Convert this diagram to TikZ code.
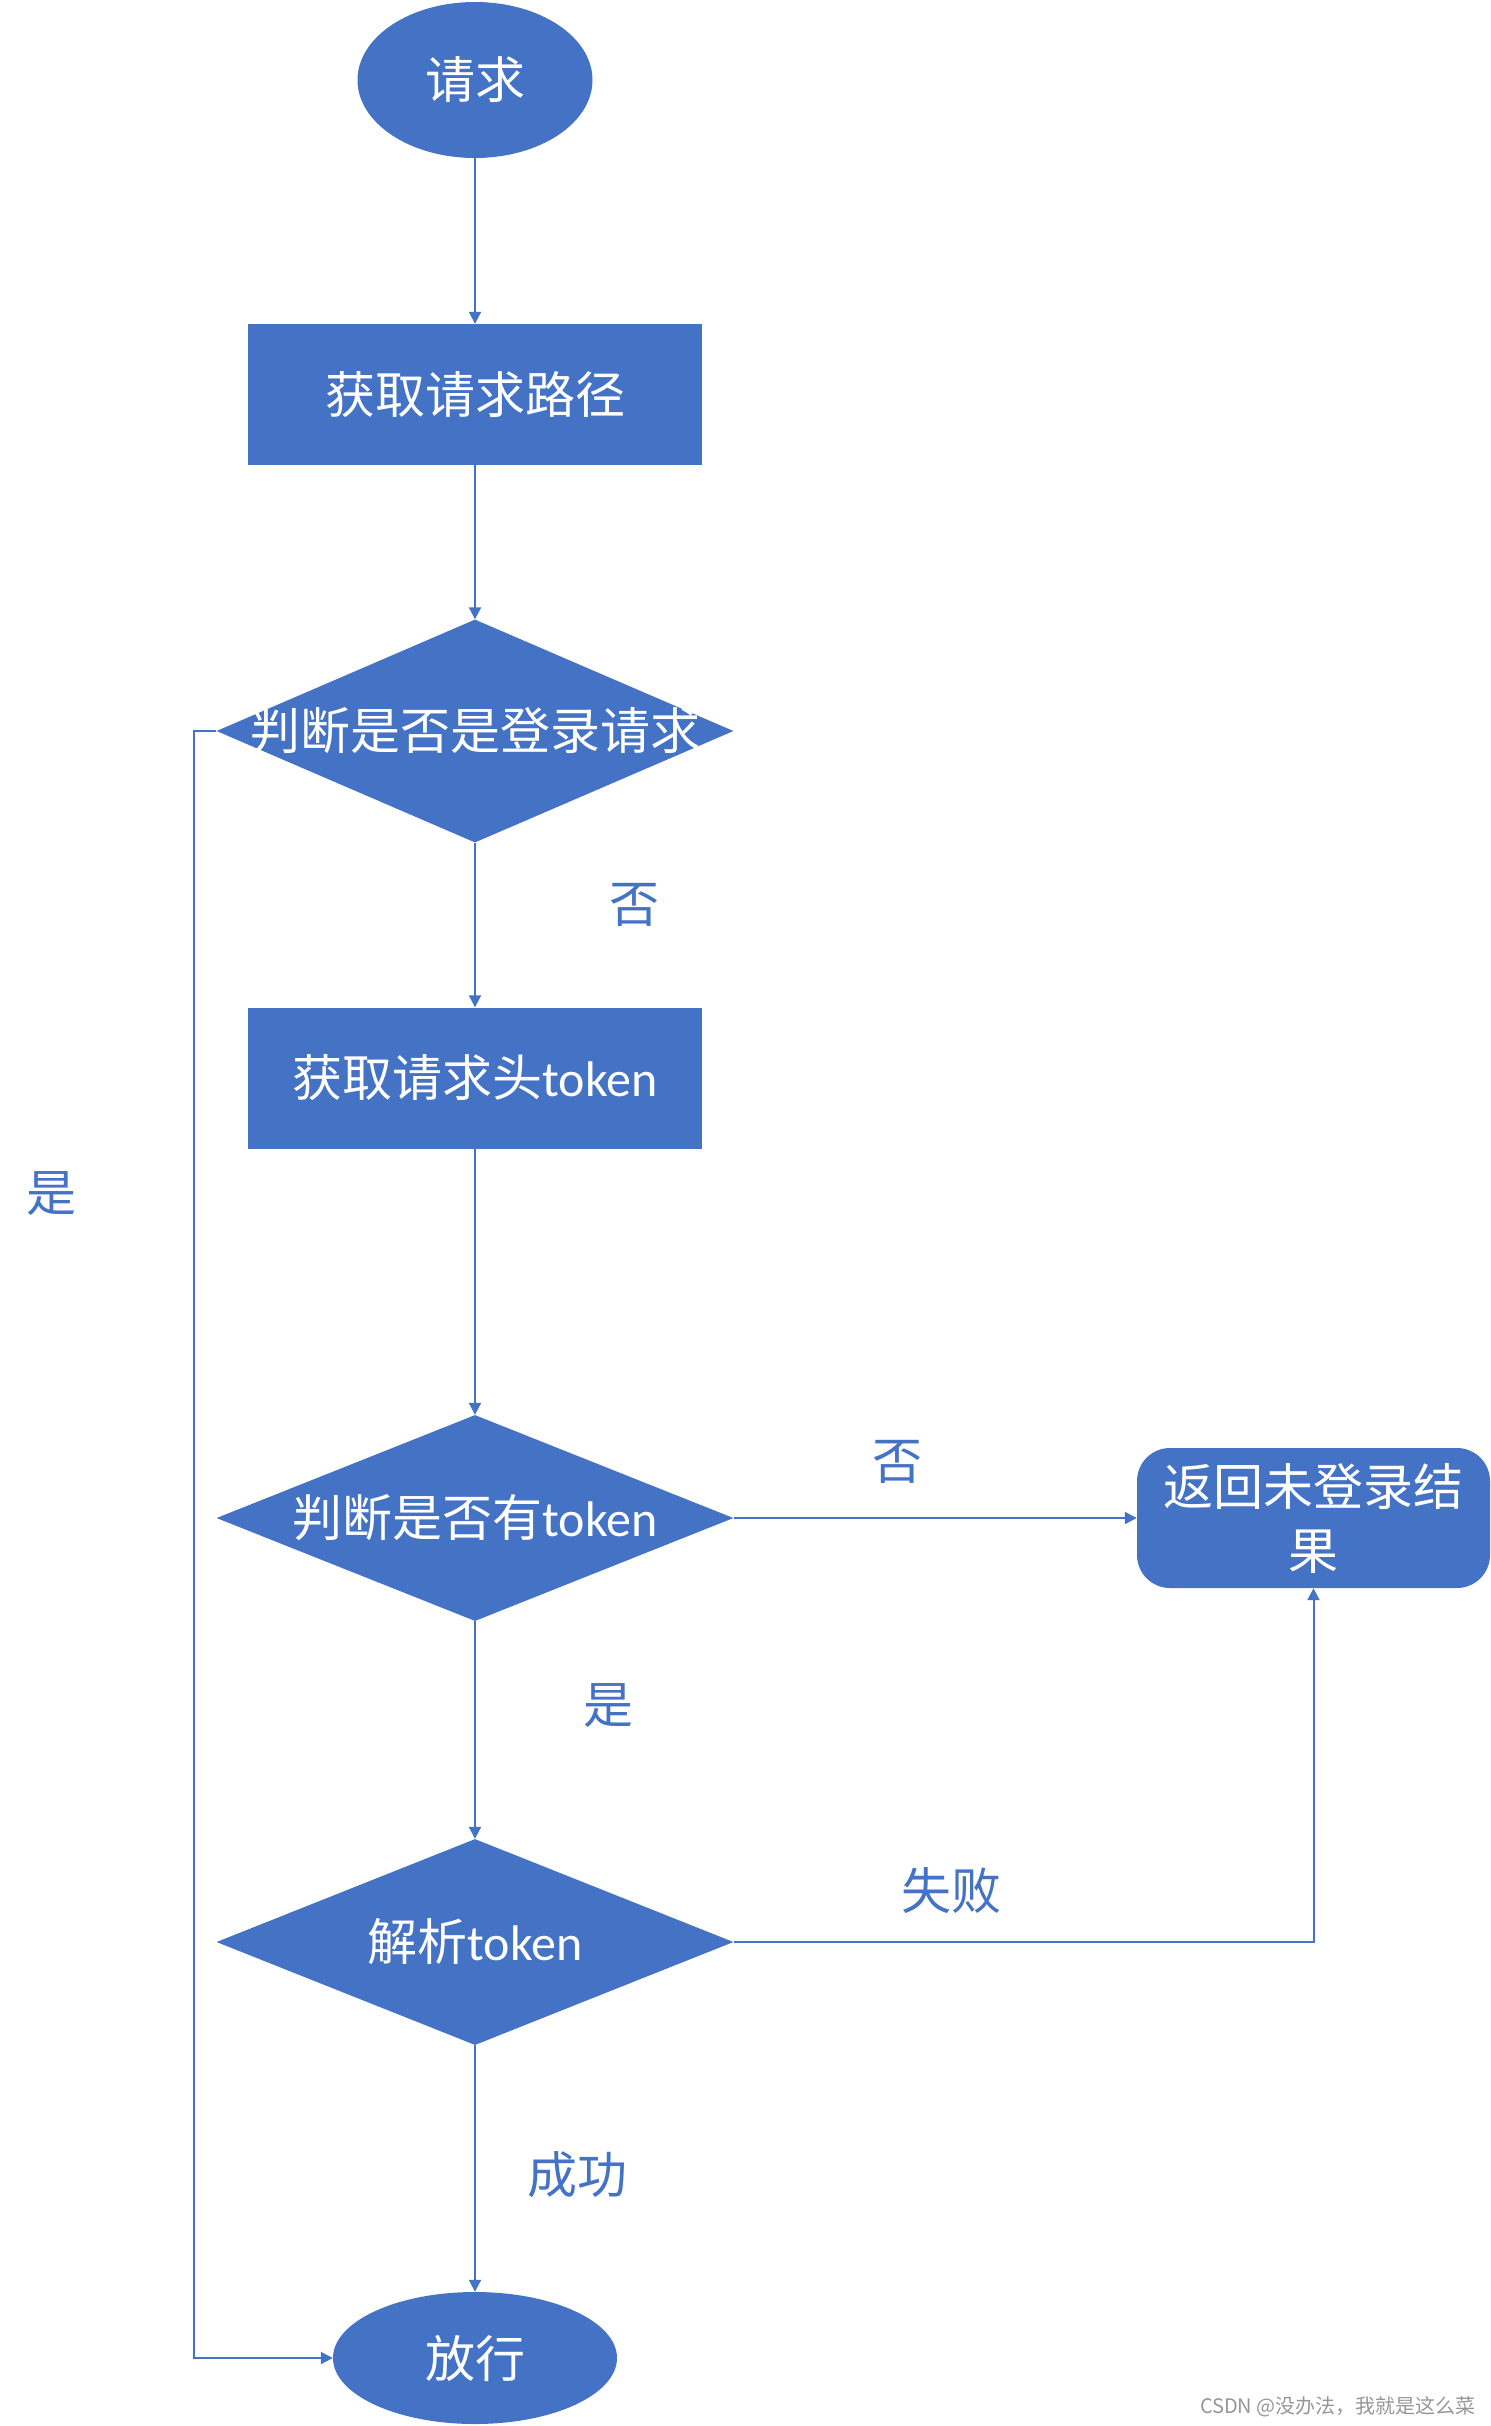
\documentclass[tikz,border=0pt]{standalone}
\usepackage{fontspec}
\setmainfont{Noto Sans CJK SC}
\newfontfamily\latfont{Carlito}
\usetikzlibrary{shapes.geometric,arrows.meta}
\definecolor{fc}{HTML}{4472C4}
\definecolor{wmgray}{RGB}{150,150,150}
\newcommand{\tkn}{{\latfont token}}
\begin{document}
\begin{tikzpicture}[x=1pt,y=-1pt,
  base/.style={fill=fc, text=white, inner sep=0pt, font=\fontsize{50}{64}\selectfont},
  term/.style={base, ellipse},
  proc/.style={base, rectangle, minimum width=454pt, minimum height=141pt},
  dec/.style={base, diamond, minimum width=517pt},
  res/.style={base, rectangle, rounded corners=33pt, minimum width=353pt, minimum height=140pt, align=center},
  lbl/.style={text=fc, inner sep=0pt, font=\fontsize{50}{58}\selectfont},
  conn/.style={draw=fc, line width=2pt, -{Triangle[length=12pt,width=12pt]}},
  wm/.style={text=wmgray, inner sep=0pt, anchor=east, font=\fontsize{20}{22}\selectfont}]
\useasboundingbox (0,0) rectangle (1491,2426);

\node[term, minimum width=235pt, minimum height=156pt] (start) at (475,80) {请求};
\node[proc] (p1) at (475,394.5) {获取请求路径};
\node[dec, minimum height=223pt] (d1) at (475,731) {\makebox[0pt]{判断是否是登录请求}};
\node[proc] (p2) at (475,1078) {获取请求头\tkn};
\node[dec, minimum height=206pt] (d2) at (475,1518) {\makebox[0pt]{判断是否有\tkn}};
\node[res] (r) at (1313.5,1518) {返回未登录结\\果};
\node[dec, minimum height=206pt] (d3) at (475,1942) {\makebox[0pt]{解析\tkn}};
\node[term, minimum width=284pt, minimum height=132pt] (end) at (475,2358) {放行};

\node[lbl] (l1) at (634,905) {否};
\node[lbl] (l2) at (51,1194) {是};
\node[lbl] (l3) at (897,1462) {否};
\node[lbl] (l4) at (608,1706) {是};
\node[lbl] (l5) at (951,1890) {失败};
\node[lbl] (l6) at (577,2175) {成功};

\node[wm] (wm) at (1476,2407) {CSDN @没办法，我就是这么菜};

\draw[conn] (start) -- (p1);
\draw[conn] (p1) -- (d1);
\draw[conn] (d1) -- (p2);
\draw[conn] (p2) -- (d2);
\draw[conn] (d2) -- (r);
\draw[conn] (d2) -- (d3);
\draw[conn] (d3.east) -| (r.south);
\draw[conn] (d3) -- (end);
\coordinate (lx) at (194,731);
\draw[conn] (d1.west) -- (lx) |- (end.west);
\end{tikzpicture}
\end{document}
